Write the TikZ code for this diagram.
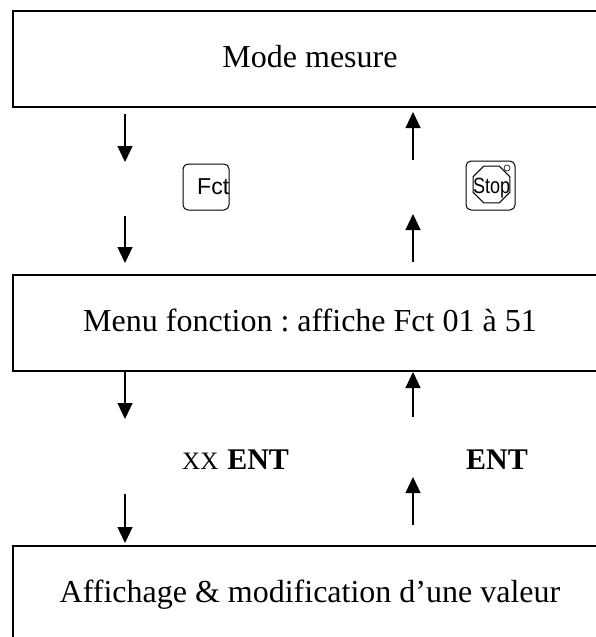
\documentclass[tikz,border=0pt]{standalone}
\usepackage{fontspec}
\setmainfont{Liberation Serif}
\newfontfamily\keyfont{Liberation Sans}
\usetikzlibrary{arrows.meta,shapes.geometric}
\frenchspacing
\tikzset{
  statebox/.style={draw, line width=1.4pt, minimum width=594pt, minimum height=96pt,
    inner sep=0pt, font=\fontsize{32}{38}\selectfont, text height=22pt, text depth=6pt},
  arr/.style={line width=1.1pt, -{Triangle[length=16pt,width=15pt]}},
  keybox/.style={draw, line width=1pt, rounded corners=5pt, minimum width=46pt,
    minimum height=46pt, inner sep=0pt},
  plain/.style={inner sep=0pt, anchor=base west},
}
\begin{document}
\begin{tikzpicture}[x=1pt,y=-1pt]
\useasboundingbox (0,0) rectangle (596,637);
\clip (0,0) rectangle (596,637);
% boxes
\node[statebox] (mode) at (310,59) {Mode mesure};
\node[statebox] (menu) at (310,323) {Menu fonction : affiche Fct 01 à 51};
\node[statebox] (aff) at (310,594) {Affichage \& modification d’une valeur};
% arrow end points
\coordinate (a1s) at (125,114); \coordinate (a1e) at (125,162);
\coordinate (a2s) at (125,216); \coordinate (a2e) at (125,263);
\coordinate (b1s) at (413,160); \coordinate (b1e) at (413,112);
\coordinate (b2s) at (413,262); \coordinate (b2e) at (413,214);
\coordinate (c1s) at (125,371); \coordinate (c1e) at (125,419);
\coordinate (c2s) at (125,494); \coordinate (c2e) at (125,543);
\coordinate (d1s) at (413,417); \coordinate (d1e) at (413,372);
\coordinate (d2s) at (413,525); \coordinate (d2e) at (413,477);
\draw[arr] (a1s) -- (a1e);
\draw[arr] (a2s) -- (a2e);
\draw[arr] (b1s) -- (b1e);
\draw[arr] (b2s) -- (b2e);
\draw[arr] (c1s) -- (c1e);
\draw[arr] (c2s) -- (c2e);
\draw[arr] (d1s) -- (d1e);
\draw[arr] (d2s) -- (d2e);
% Fct key
\node[keybox] (fct) at (206,187) {};
\node[plain, font=\keyfont\fontsize{23}{23}\selectfont] (fcttxt) at (197,194) {Fct};
% Stop key
\node[keybox, minimum width=49pt, minimum height=49pt] (stop) at (490.5,185.5) {};
\node[draw, line width=1pt, regular polygon, regular polygon sides=8, minimum size=40pt, inner sep=0pt] (oct) at (491.5,184.5) {};
\node[draw, circle, line width=0.6pt, minimum size=6pt, inner sep=0pt] (dot) at (507,168) {};
\node[plain, xscale=0.82, font=\keyfont\fontsize{22}{22}\selectfont] (stoptxt) at (473,193) {Stop};
% labels
\node[plain] (lab1) at (182,469) {\fontsize{25}{25}\selectfont XX\hspace{9pt}\fontsize{30}{30}\selectfont\bfseries ENT};
\node[plain] (lab2) at (466,469) {\fontsize{30}{30}\selectfont\bfseries ENT};
\end{tikzpicture}
\end{document}
